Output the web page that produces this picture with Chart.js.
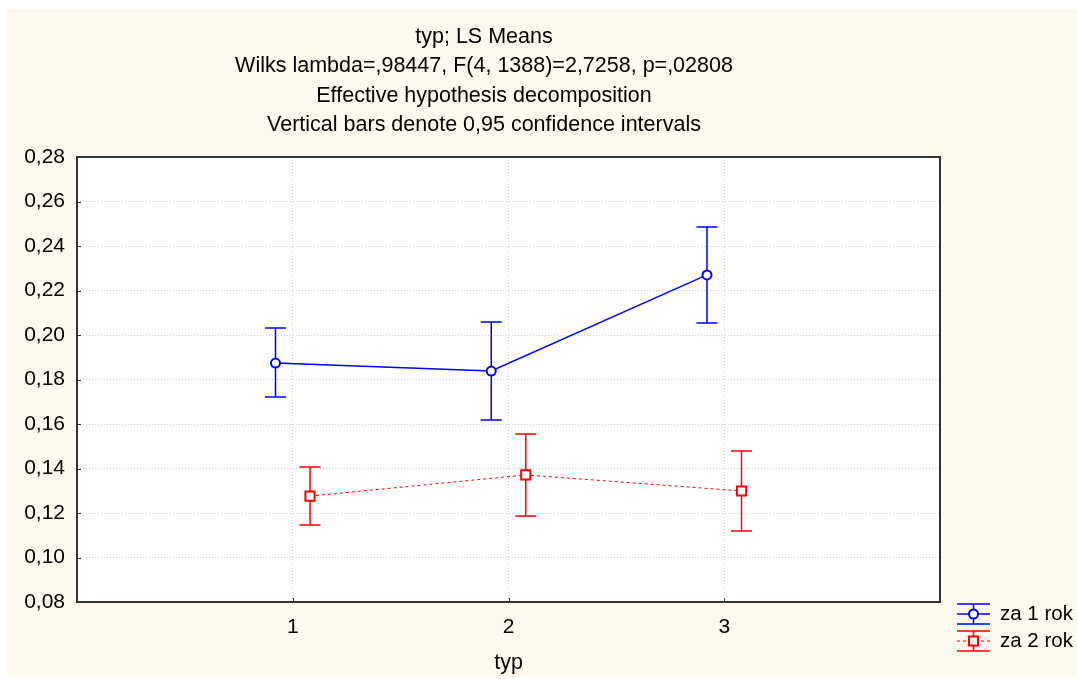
<!DOCTYPE html>
<html>
<head>
<meta charset="utf-8">
<script src="https://cdn.jsdelivr.net/npm/chart.js@4/dist/chart.umd.min.js"></script>
<style>
  html, body { margin: 0; padding: 0; background: #ffffff; }
  canvas { display: block; }
</style>
</head>
<body>
<canvas id="lsChart" width="1077" height="679"></canvas>
<script>
// dane
const categories = ['1', '2', '3'];
const seriesLabels = ['za 1 rok', 'za 2 rok'];
const means1 = [0.1874, 0.1838, 0.2270];
const lows1 = [0.1721, 0.1618, 0.2054];
const highs1 = [0.2031, 0.2058, 0.2485];
const means2 = [0.1276, 0.1371, 0.1299];
const lows2 = [0.1146, 0.1187, 0.1119];
const highs2 = [0.1407, 0.1555, 0.1479];
const titleLines = [
    'typ; LS Means',
    'Wilks lambda=,98447, F(4, 1388)=2,7258, p=,02808',
    'Effective hypothesis decomposition',
    'Vertical bars denote 0,95 confidence intervals'
];
const xTitle = 'typ';

const FONT = '"Liberation Sans", Arial, sans-serif';
const DODGE = 0.08;

function buildPoints(means, lows, highs, shift) {
    return categories.map((c, i) => ({ x: i + 1 + shift, y: means[i], lo: lows[i], hi: highs[i] }));
}

/**
 * Tło, tytuł, słupki błędów, ramka i legenda.
 */
const decorPlugin = {
    id: 'decor',
    beforeDraw(chart) {
        const ctx = chart.ctx;
        ctx.save();
        ctx.fillStyle = '#ffffff';
        ctx.fillRect(0, 0, chart.width, chart.height);
        ctx.fillStyle = '#fdf9ef';
        ctx.fillRect(7, 9, chart.width - 7, chart.height - 11);
        const a = chart.chartArea;
        ctx.fillStyle = '#ffffff';
        ctx.fillRect(a.left, a.top, a.right - a.left, a.bottom - a.top);
        ctx.restore();
    },
    beforeDatasetsDraw(chart) {
        const ctx = chart.ctx;
        const xs = chart.scales.x, ys = chart.scales.y;
        ctx.save();
        chart.data.datasets.forEach((ds) => {
            ctx.strokeStyle = ds.borderColor;
            ctx.lineWidth = 1.5;
            ds.data.forEach((p) => {
                const px = xs.getPixelForValue(p.x);
                const pLo = ys.getPixelForValue(p.lo);
                const pHi = ys.getPixelForValue(p.hi);
                ctx.beginPath();
                ctx.moveTo(px, pLo); ctx.lineTo(px, pHi);
                ctx.moveTo(px - 10.5, pLo); ctx.lineTo(px + 10.5, pLo);
                ctx.moveTo(px - 10.5, pHi); ctx.lineTo(px + 10.5, pHi);
                ctx.stroke();
            });
        });
        ctx.restore();
    },
    afterDraw(chart) {
        const ctx = chart.ctx;
        const a = chart.chartArea;
        const xs = chart.scales.x, ys = chart.scales.y;
        ctx.save();

        // ramka i krótkie znaczniki do środka
        ctx.strokeStyle = '#333333';
        ctx.lineWidth = 2;
        ctx.strokeRect(a.left, a.top, a.right - a.left, a.bottom - a.top);
        ctx.lineWidth = 1;
        ctx.beginPath();
        ys.ticks.forEach((t) => {
            const py = Math.round(ys.getPixelForValue(t.value)) + 0.5;
            ctx.moveTo(a.left, py); ctx.lineTo(a.left + 4, py);
        });
        xs.ticks.forEach((t) => {
            const px = Math.round(xs.getPixelForValue(t.value)) + 0.5;
            ctx.moveTo(px, a.bottom); ctx.lineTo(px, a.bottom - 4);
        });
        ctx.stroke();

        // tytuł
        ctx.fillStyle = '#000000';
        ctx.textAlign = 'center';
        ctx.textBaseline = 'middle';
        ctx.font = '21.5px ' + FONT;
        titleLines.forEach((line, i) => ctx.fillText(line, 484, 37 + i * 29.3));

        // tytuł osi X
        ctx.font = '21.5px ' + FONT;
        ctx.fillText(xTitle, (a.left + a.right) / 2, 663);

        // legenda
        ctx.textAlign = 'left';
        const rows = [614, 641];
        chart.data.datasets.forEach((ds, i) => {
            const cy = rows[i];
            const x0 = 957, x1 = 990, cx = 973.5;
            ctx.strokeStyle = ds.borderColor;
            ctx.lineWidth = 1.5;
            ctx.setLineDash([]);
            ctx.beginPath();
            ctx.moveTo(x0, cy - 10); ctx.lineTo(x1, cy - 10);
            ctx.moveTo(x0, cy + 10); ctx.lineTo(x1, cy + 10);
            ctx.moveTo(cx, cy - 10); ctx.lineTo(cx, cy + 10);
            ctx.stroke();
            ctx.lineWidth = ds.borderWidth;
            ctx.setLineDash(ds.borderDash || []);
            ctx.beginPath();
            ctx.moveTo(x0, cy); ctx.lineTo(x1, cy);
            ctx.stroke();
            ctx.setLineDash([]);
            ctx.lineWidth = 2;
            ctx.fillStyle = '#ffffff';
            ctx.beginPath();
            if (ds.pointStyle === 'rect') {
                ctx.rect(cx - 4.5, cy - 4.5, 9, 9);
            } else {
                ctx.arc(cx, cy, 4.5, 0, Math.PI * 2);
            }
            ctx.fill();
            ctx.stroke();
            ctx.fillStyle = '#000000';
            ctx.font = '20.5px ' + FONT;
            ctx.fillText(ds.label, 1000, cy);
        });
        ctx.restore();
    }
};

function initializeChart() {
    const canvas = document.getElementById('lsChart');
    if (!canvas) {
        return;
    }
    new Chart(canvas.getContext('2d'), {
        type: 'line',
        data: {
            datasets: [{
                label: seriesLabels[0],
                data: buildPoints(means1, lows1, highs1, -DODGE),
                borderColor: '#0000ff',
                backgroundColor: '#ffffff',
                borderWidth: 1.5,
                pointStyle: 'circle',
                pointRadius: 4.5,
                pointBorderWidth: 2,
                pointBackgroundColor: '#ffffff',
                tension: 0
            }, {
                label: seriesLabels[1],
                data: buildPoints(means2, lows2, highs2, DODGE),
                borderColor: '#ff0000',
                backgroundColor: '#ffffff',
                borderWidth: 1,
                borderDash: [3, 3],
                pointStyle: 'rect',
                pointRadius: 6.5,
                pointBorderWidth: 2,
                pointBackgroundColor: '#ffffff',
                tension: 0
            }]
        },
        options: {
            responsive: false,
            animation: false,
            layout: { padding: { left: 0, top: 157, right: 137, bottom: 0 } },
            plugins: {
                legend: { display: false },
                title: { display: false },
                tooltip: { enabled: false }
            },
            scales: {
                x: {
                    type: 'linear',
                    min: 0,
                    max: 4,
                    afterBuildTicks: (scale) => {
                        scale.ticks = categories.map((c, i) => ({ value: i + 1 }));
                    },
                    afterFit: (scale) => { scale.height = 77; },
                    ticks: {
                        color: '#000000',
                        font: { family: FONT, size: 21 },
                        padding: 13,
                        maxRotation: 0,
                        callback: (v) => categories[v - 1] || ''
                    },
                    grid: { color: '#cccccc', drawTicks: false },
                    border: { display: false, dash: [1, 2] }
                },
                y: {
                    min: 0.08,
                    max: 0.28,
                    afterFit: (scale) => { scale.width = 77; },
                    ticks: {
                        stepSize: 0.02,
                        color: '#000000',
                        font: { family: FONT, size: 21 },
                        padding: 12,
                        callback: (v) => v.toFixed(2).replace('.', ',')
                    },
                    grid: { color: '#cccccc', drawTicks: false },
                    border: { display: false, dash: [1, 2] }
                }
            }
        },
        plugins: [decorPlugin]
    });
}

document.addEventListener('DOMContentLoaded', initializeChart);
</script>
</body>
</html>
